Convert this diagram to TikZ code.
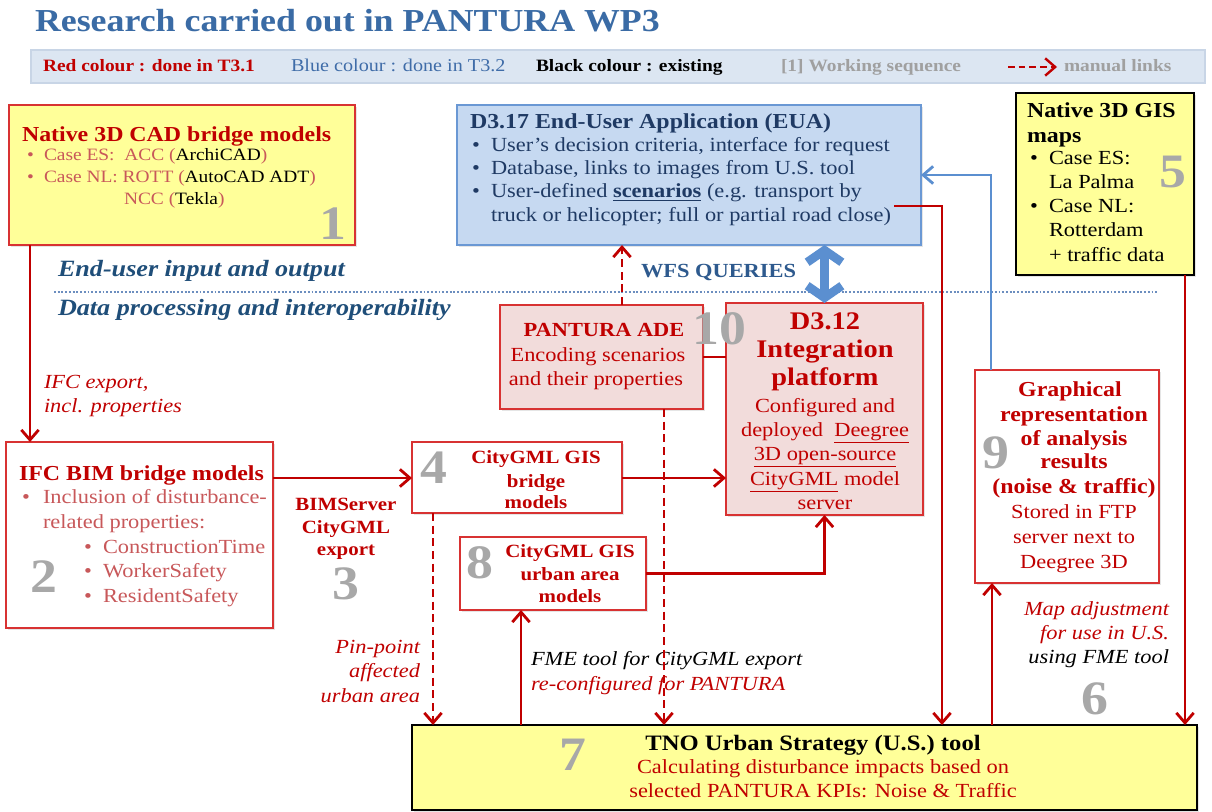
\documentclass[tikz,border=0pt]{standalone}
\usepackage{fontspec}
\setmainfont{Liberation Serif}[FakeStretch=1.12]
\usetikzlibrary{arrows.meta,shadows}
\definecolor{dred}{HTML}{C00000}
\definecolor{lred}{HTML}{C8585A}
\definecolor{bred}{HTML}{D83232}
\definecolor{ared}{HTML}{C00000}
\definecolor{tblue}{HTML}{3A6BA5}
\definecolor{legblue}{HTML}{3F6CA8}
\definecolor{dblue}{HTML}{1F3A64}
\definecolor{layerblue}{HTML}{1F4E79}
\definecolor{wfsblue}{HTML}{2E5A8E}
\definecolor{ablue}{HTML}{5B8FD0}
\definecolor{euafill}{HTML}{C6D9F1}
\definecolor{euadraw}{HTML}{6A98D4}
\definecolor{pinkf}{HTML}{F2DCDB}
\definecolor{yel}{HTML}{FFFF99}
\definecolor{numgray}{HTML}{A8A8A8}
\definecolor{leggray}{HTML}{A0A0A0}
\definecolor{legfill}{HTML}{DCE6F2}
\definecolor{legdraw}{HTML}{C8D5E6}
\definecolor{dotblue}{HTML}{6C8EBF}
\tikzset{
  wh/.style 2 args={minimum width=#1*0.75pt, minimum height=#2*0.75pt},
  box/.style={inner sep=0pt, outer sep=0pt, line width=1.3pt,
    drop shadow={shadow xshift=1.5pt, shadow yshift=-1.5pt, opacity=0.2}},
  redbox/.style={box, draw=bred, fill=white},
  yredbox/.style={box, draw=bred, fill=yel},
  yblackbox/.style={box, draw=black, fill=yel},
  bluebox/.style={box, draw=euadraw, fill=euafill},
  pinkbox/.style={box, draw=bred, fill=pinkf},
  t/.style={inner sep=0pt, outer sep=0pt},
  fTitle/.style={font=\fontsize{24}{28}\selectfont\bfseries},
  fLeg/.style={font=\fontsize{13}{15}\selectfont\bfseries},
  fLegR/.style={font=\fontsize{13.5}{15}\selectfont},
  fHead/.style={font=\fontsize{16}{19}\selectfont\bfseries},
  fBody/.style={font=\fontsize{15}{18}\selectfont},
  fBodyS/.style={font=\fontsize{13}{16}\selectfont},
  fBig/.style={font=\fontsize{19}{22}\selectfont\bfseries},
  fSmallB/.style={font=\fontsize{14}{17}\selectfont\bfseries},
  fMidB/.style={font=\fontsize{15}{18}\selectfont\bfseries},
  fLayer/.style={font=\fontsize{17.5}{20}\selectfont\bfseries\itshape},
  fIt/.style={font=\fontsize{15}{18}\selectfont\itshape},
  num/.style={t, text=numgray, font=\fontsize{36}{36}\selectfont\bfseries},
  arr/.style={draw=ared, line width=2.1pt, -{Straight Barb[length=7.5pt,width=13pt]}},
  darr/.style={arr, dash pattern=on 6pt off 3.5pt},
  rline/.style={draw=ared, line width=2.1pt},
  barr/.style={draw=ablue, line width=2.1pt, -{Straight Barb[length=7.5pt,width=13pt]}},
  bdouble/.style={draw=ablue, line width=6.5pt,
    {Straight Barb[length=9pt,width=26pt]}-{Straight Barb[length=9pt,width=26pt]}},
}
\begin{document}
\begin{tikzpicture}[x=0.75pt,y=-0.75pt]
\useasboundingbox (0,0) rectangle (1212,812);
\fill[white] (0,0) rectangle (1212,812);

% title and legend
\node[t, fTitle, text=tblue, anchor=base west] (title) at (35,32) {Research carried out in PANTURA WP3};
\node[inner sep=0pt, outer sep=0pt, fill=legfill, draw=legdraw, line width=0.8pt, wh={1174}{33}] (legend) at (618,66.5) {};
\node[t, fLeg, text=dred, anchor=base west] (legred) at (43,72) {Red colour : done in T3.1};
\node[t, fLegR, text=legblue, anchor=base west] (legblu) at (291,72) {Blue colour : done in T3.2};
\node[t, fLeg, text=black, anchor=base west] (legblk) at (536,72) {Black colour : existing};
\node[t, fLeg, text=leggray, anchor=base west] (legseq) at (781,72) {[1] Working sequence};
\coordinate (legA) at (1008,67);
\coordinate (legB) at (1057,67);
\draw[darr, line width=1.8pt, dash pattern=on 5pt off 3pt] (legA) -- (legB);
\node[t, fLeg, text=leggray, anchor=base west] (legman) at (1064,72) {manual links};

% boxes
\node[yredbox, wh={346}{140}] (b1) at (182,175) {};
\node[bluebox, wh={464}{140}] (eua) at (689,175) {};
\node[yblackbox, wh={178}{182}] (b5) at (1105,184) {};
\node[pinkbox, wh={203}{104}] (ade) at (601.5,357) {};
\node[pinkbox, wh={197}{212}] (d312) at (824.5,409) {};
\node[redbox, wh={267}{186}] (b2) at (139.5,535) {};
\node[redbox, wh={210}{71}] (b4) at (517,477.5) {};
\node[redbox, wh={186}{73}] (b8) at (553,573.5) {};
\node[redbox, wh={184}{213}] (b9) at (1067,476.5) {};
\node[yblackbox, wh={785}{85}] (tno) at (804.5,767.5) {};

% box 1
\node[t, fHead, text=dred, anchor=base west] (b1h) at (22,142) {Native 3D CAD bridge models};
\node[t, fBodyS, text=lred, anchor=base west] (b1d1) at (27,161) {•};
\node[t, fBodyS, text=lred, anchor=base west] (b1l1) at (44,161) {Case ES:\ \ ACC (\textcolor{black}{ArchiCAD})};
\node[t, fBodyS, text=lred, anchor=base west] (b1d2) at (27,183) {•};
\node[t, fBodyS, text=lred, anchor=base west] (b1l2) at (44,183) {Case NL: ROTT (\textcolor{black}{AutoCAD ADT})};
\node[t, fBodyS, text=lred, anchor=base west] (b1l3) at (124,205) {NCC (\textcolor{black}{Tekla})};
\node[num] (n1) at (333,224) {1};

% EUA
\node[t, fHead, text=dblue, anchor=base west] (euah) at (470,129) {D3.17 End-User Application (EUA)};
\node[t, fBody, text=dblue, anchor=base west] (euad1) at (472,152) {•};
\node[t, fBody, text=dblue, anchor=base west] (eual1) at (491,152) {User’s decision criteria, interface for request};
\node[t, fBody, text=dblue, anchor=base west] (euad2) at (472,175) {•};
\node[t, fBody, text=dblue, anchor=base west] (eual2) at (491,175) {Database, links to images from U.S. tool};
\node[t, fBody, text=dblue, anchor=base west] (euad3) at (472,198) {•};
\node[t, fBody, text=dblue, anchor=base west] (eual3) at (491,198) {User-defined \textbf{\underline{scenarios}} (e.g. transport by};
\node[t, fBody, text=dblue, anchor=base west] (eual4) at (491,222) {truck or helicopter; full or partial road close)};

% box 5
\node[t, fHead, text=black, anchor=base west] (b5h1) at (1027,118) {Native 3D GIS};
\node[t, fHead, text=black, anchor=base west] (b5h2) at (1027,143) {maps};
\node[t, fBody, anchor=base west] (b5d1) at (1030,165) {•};
\node[t, fBody, anchor=base west] (b5l1) at (1049,165) {Case ES:};
\node[t, fBody, anchor=base west] (b5l2) at (1049,189) {La Palma};
\node[t, fBody, anchor=base west] (b5d2) at (1030,213) {•};
\node[t, fBody, anchor=base west] (b5l3) at (1049,213) {Case NL:};
\node[t, fBody, anchor=base west] (b5l4) at (1049,237) {Rotterdam};
\node[t, fBody, anchor=base west] (b5l5) at (1049,262) {+ traffic data};
\node[num] (n5) at (1173,172) {5};

% layers
\node[t, fLayer, text=layerblue, anchor=base west] (lay1) at (58,277) {End-user input and output};
\coordinate (dotA) at (54,292);
\coordinate (dotB) at (1158,292);
\draw[dotblue, line width=1.6pt, dash pattern=on 1.4pt off 1.4pt] (dotA) -- (dotB);
\node[t, fLayer, text=layerblue, anchor=base west] (lay2) at (58,316) {Data processing and interoperability};
\node[t, fMidB, text=wfsblue, anchor=base west] (wfs) at (641,278) {WFS QUERIES};

% ADE
\node[t, fMidB, text=dred, anchor=base] (adeh) at (604,337) {PANTURA ADE};
\node[t, fBody, text=dred, anchor=base] (adel1) at (598,362) {Encoding scenarios};
\node[t, fBody, text=dred, anchor=base] (adel2) at (596,386) {and their properties};
\node[num] (n10) at (719,329) {10};

% D3.12
\node[t, fBig, text=dred, anchor=base] (dh1) at (825,330) {D3.12};
\node[t, fBig, text=dred, anchor=base] (dh2) at (825,358) {Integration};
\node[t, fBig, text=dred, anchor=base] (dh3) at (825,386) {platform};
\node[t, fBody, text=dred, anchor=base] (dl1) at (825,412) {Configured and};
\node[t, fBody, text=dred, anchor=base] (dl2) at (825,436) {deployed\ \ \underline{Deegree}};
\node[t, fBody, text=dred, anchor=base] (dl3) at (825,460) {\underline{3D open-source}};
\node[t, fBody, text=dred, anchor=base] (dl4) at (825,485) {\underline{CityGML} model};
\node[t, fBody, text=dred, anchor=base] (dl5) at (825,509) {server};

% box 2
\node[t, fHead, text=dred, anchor=base west] (b2h) at (19,480) {IFC BIM bridge models};
\node[t, fBody, text=lred, anchor=base west] (b2d1) at (22,503) {•};
\node[t, fBody, text=lred, anchor=base west] (b2l1) at (43,503) {Inclusion of disturbance-};
\node[t, fBody, text=lred, anchor=base west] (b2l2) at (43,528) {related properties:};
\node[t, fBody, text=lred, anchor=base west] (b2d2) at (84,553) {•};
\node[t, fBody, text=lred, anchor=base west] (b2l3) at (103,553) {ConstructionTime};
\node[t, fBody, text=lred, anchor=base west] (b2d3) at (84,577) {•};
\node[t, fBody, text=lred, anchor=base west] (b2l4) at (103,577) {WorkerSafety};
\node[t, fBody, text=lred, anchor=base west] (b2d4) at (84,602) {•};
\node[t, fBody, text=lred, anchor=base west] (b2l5) at (103,602) {ResidentSafety};
\node[num] (n2) at (44,577) {2};

% BIMServer label
\node[t, fSmallB, text=dred, anchor=base] (bs1) at (346,510) {BIMServer};
\node[t, fSmallB, text=dred, anchor=base] (bs2) at (346,533) {CityGML};
\node[t, fSmallB, text=dred, anchor=base] (bs3) at (346,555) {export};
\node[num] (n3) at (346,584) {3};

% box 4
\node[t, fSmallB, text=dred, anchor=base] (b4l1) at (536,463) {CityGML GIS};
\node[t, fSmallB, text=dred, anchor=base] (b4l2) at (536,487) {bridge};
\node[t, fSmallB, text=dred, anchor=base] (b4l3) at (536,508) {models};
\node[num] (n4) at (434,468) {4};

% box 8
\node[t, fSmallB, text=dred, anchor=base] (b8l1) at (570,557) {CityGML GIS};
\node[t, fSmallB, text=dred, anchor=base] (b8l2) at (570,580) {urban area};
\node[t, fSmallB, text=dred, anchor=base] (b8l3) at (570,602) {models};
\node[num] (n8) at (480,563) {8};

% box 9
\node[t, fHead, text=dred, anchor=base] (b9l1) at (1070,397) {Graphical};
\node[t, fHead, text=dred, anchor=base] (b9l2) at (1074,421) {representation};
\node[t, fHead, text=dred, anchor=base] (b9l3) at (1074,445) {of analysis};
\node[t, fHead, text=dred, anchor=base] (b9l4) at (1074,468) {results};
\node[t, fHead, text=dred, anchor=base] (b9l5) at (1074,493) {(noise \& traffic)};
\node[t, fBody, text=dred, anchor=base] (b9l6) at (1074,518) {Stored in FTP};
\node[t, fBody, text=dred, anchor=base] (b9l7) at (1074,543) {server next to};
\node[t, fBody, text=dred, anchor=base] (b9l8) at (1074,568) {Deegree 3D};
\node[num] (n9) at (996,453) {9};

% italic labels
\node[t, fIt, text=dred, anchor=base west] (ifc1) at (44,388) {IFC export,};
\node[t, fIt, text=dred, anchor=base west] (ifc2) at (44,412) {incl. properties};
\node[t, fIt, text=dred, anchor=base east] (pin1) at (420,653) {Pin-point};
\node[t, fIt, text=dred, anchor=base east] (pin2) at (420,677) {affected};
\node[t, fIt, text=dred, anchor=base east] (pin3) at (420,702) {urban area};
\node[t, fIt, text=black, anchor=base west] (fme1) at (531,665) {FME tool for CityGML export};
\node[t, fIt, text=dred, anchor=base west] (fme2) at (531,690) {re-configured for PANTURA};
\node[t, fIt, text=dred, anchor=base east] (map1) at (1169,615) {Map adjustment};
\node[t, fIt, text=dred, anchor=base east] (map2) at (1169,639) {for use in U.S.};
\node[t, fIt, text=black, anchor=base east] (map3) at (1169,663) {using FME tool};
\node[num] (n6) at (1095,699) {6};

% TNO
\node[t, font=\fontsize{16.5}{19}\selectfont\bfseries, anchor=base] (tnoh) at (813,750) {TNO Urban Strategy (U.S.) tool};
\node[t, fBody, text=dred, anchor=base] (tnol1) at (823,773) {Calculating disturbance impacts based on};
\node[t, fBody, text=dred, anchor=base] (tnol2) at (823,797) {selected PANTURA KPIs: Noise \& Traffic};
\node[num] (n7) at (573,755) {7};

% connectors
\draw[arr] (30,0 |- b1.south) -- (30,0 |- b2.north);
\draw[arr] (b2.east |- 0,478) -- (b4.west |- 0,478);
\draw[arr] (b4.east |- 0,478) -- (d312.west |- 0,478);
\draw[arr] (b8.east) -| (d312.south);
\draw[rline] (ade.east) -- (ade.east -| d312.west);
\draw[darr] (622,0 |- ade.north) -- (622,0 |- eua.south);
\draw[darr] (664,0 |- ade.south) -- (664,0 |- tno.north);
\draw[darr] (433,0 |- b4.south) -- (433,0 |- tno.north);
\draw[arr] (521,0 |- tno.north) -- (521,0 |- b8.south);
\coordinate (euaout) at (894,206);
\draw[arr] (euaout) -- (942,206) -- (942,0 |- tno.north);
\draw[barr] (991,0 |- b9.north) -- (991,175) -- (eua.east |- 0,175);
\draw[arr] (992,0 |- tno.north) -- (992,0 |- b9.south);
\draw[arr] (1185,0 |- b5.south) -- (1185,0 |- tno.north);
\draw[bdouble] (d312.north) -- (d312.north |- eua.south);
\end{tikzpicture}
\end{document}
